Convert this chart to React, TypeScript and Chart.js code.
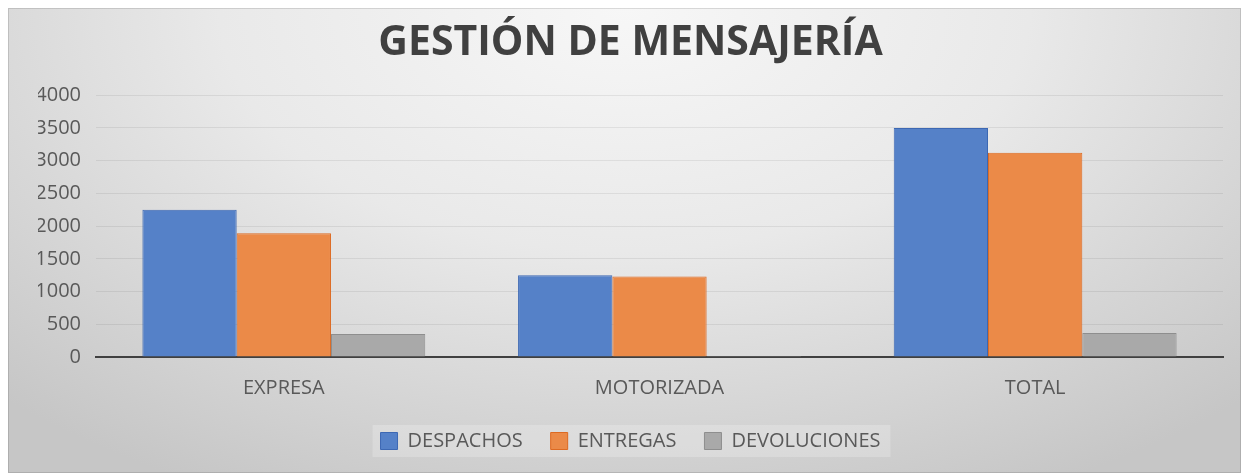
import React, { useEffect, useRef } from "react";
import { Chart, registerables } from "chart.js";

Chart.register(...registerables);

const chartTitle = "GESTIÓN DE MENSAJERÍA";
const categories = ["EXPRESA", "MOTORIZADA", "TOTAL"];
const seriesNames = ["DESPACHOS", "ENTREGAS", "DEVOLUCIONES"];
const despachos = [2250, 1250, 3500];
const entregas = [1890, 1230, 3120];
const devoluciones = [350, 15, 365];
const yMin = 0;
const yMax = 4000;
const yStep = 500;

const FONT = "'Open Sans', 'DejaVu Sans', sans-serif";

const backgroundPlugin = {
  id: "bgGradient",
  beforeDraw(chart: any) {
    const { ctx, width, height } = chart;
    ctx.save();
    const cx = width * 0.5;
    const cy = 0;
    const rx = 900;
    const ry = 540;
    const sy = ry / rx;
    ctx.translate(cx, cy);
    ctx.scale(1, sy);
    const g = ctx.createRadialGradient(0, 0, 0, 0, 0, rx);
    g.addColorStop(0, "#f7f7f7");
    g.addColorStop(0.45, "#e9e9e9");
    g.addColorStop(1, "#c6c6c6");
    ctx.fillStyle = g;
    ctx.fillRect(-cx, -cy / sy, width, height / sy);
    ctx.restore();

    const legend = chart.legend;
    if (legend && legend.legendHitBoxes && legend.legendHitBoxes.length) {
      const hb = legend.legendHitBoxes;
      const left = hb[0].left - 8;
      const last = hb[hb.length - 1];
      const right = last.left + last.width + 10;
      const cyL = hb[0].top + hb[0].height / 2;
      ctx.save();
      ctx.fillStyle = "rgba(255,255,255,0.22)";
      ctx.fillRect(left, cyL - 16, right - left, 32);
      ctx.restore();
    }

    ctx.save();
    ctx.strokeStyle = "rgba(0,0,0,0.12)";
    ctx.lineWidth = 1;
    ctx.strokeRect(0.5, 0.5, width - 1, height - 1);
    ctx.restore();
  },
};

export default function App() {
  const canvasRef = useRef<HTMLCanvasElement | null>(null);

  useEffect(() => {
    if (!canvasRef.current) return;
    const chart = new Chart(canvasRef.current, {
      type: "bar",
      data: {
        labels: categories,
        datasets: [
          {
            label: seriesNames[0],
            data: despachos,
            backgroundColor: "#5581C8",
            borderColor: "#3D68B3",
            borderWidth: 1,
          },
          {
            label: seriesNames[1],
            data: entregas,
            backgroundColor: "#EB8A48",
            borderColor: "#DD6A22",
            borderWidth: 1,
          },
          {
            label: seriesNames[2],
            data: devoluciones,
            backgroundColor: "#A9A9A9",
            borderColor: "#8E8E8E",
            borderWidth: 1,
          },
        ],
      },
      options: {
        animation: false,
        responsive: true,
        maintainAspectRatio: false,
        datasets: {
          bar: {
            categoryPercentage: 0.753,
            barPercentage: 1,
          },
        },
        layout: { padding: { left: 30, right: 18, top: 0, bottom: 12 } },
        plugins: {
          title: {
            display: true,
            text: chartTitle,
            color: "#404040",
            font: { family: FONT, size: 41, weight: "bold", lineHeight: 1.2 },
            padding: { top: 11, bottom: 27 },
          },
          legend: {
            display: true,
            position: "bottom",
            labels: {
              color: "#595959",
              font: { family: FONT, size: 20 },
              boxWidth: 17,
              boxHeight: 17,
              padding: 28,
            },
          },
          tooltip: { enabled: false },
        },
        scales: {
          x: {
            grid: { display: false, drawTicks: false },
            border: { display: true, color: "#404040", width: 2 },
            ticks: {
              color: "#595959",
              font: { family: FONT, size: 20 },
              padding: 19,
            },
            afterFit: (s: any) => {
              s.height = 46;
            },
          },
          y: {
            min: yMin,
            max: yMax,
            grid: { color: "rgba(0,0,0,0.07)", lineWidth: 1, drawTicks: false },
            border: { display: false },
            ticks: {
              stepSize: yStep,
              color: "#595959",
              font: { family: FONT, size: 20 },
              padding: 15,
              callback: (v: any) => String(v),
            },
            afterFit: (s: any) => {
              s.width = 58;
            },
          },
        },
      },
      plugins: [backgroundPlugin],
    });
    return () => chart.destroy();
  }, []);

  return (
    <div style={{ position: "relative", width: 1233, height: 465 }}>
      <canvas ref={canvasRef} />
    </div>
  );
}
